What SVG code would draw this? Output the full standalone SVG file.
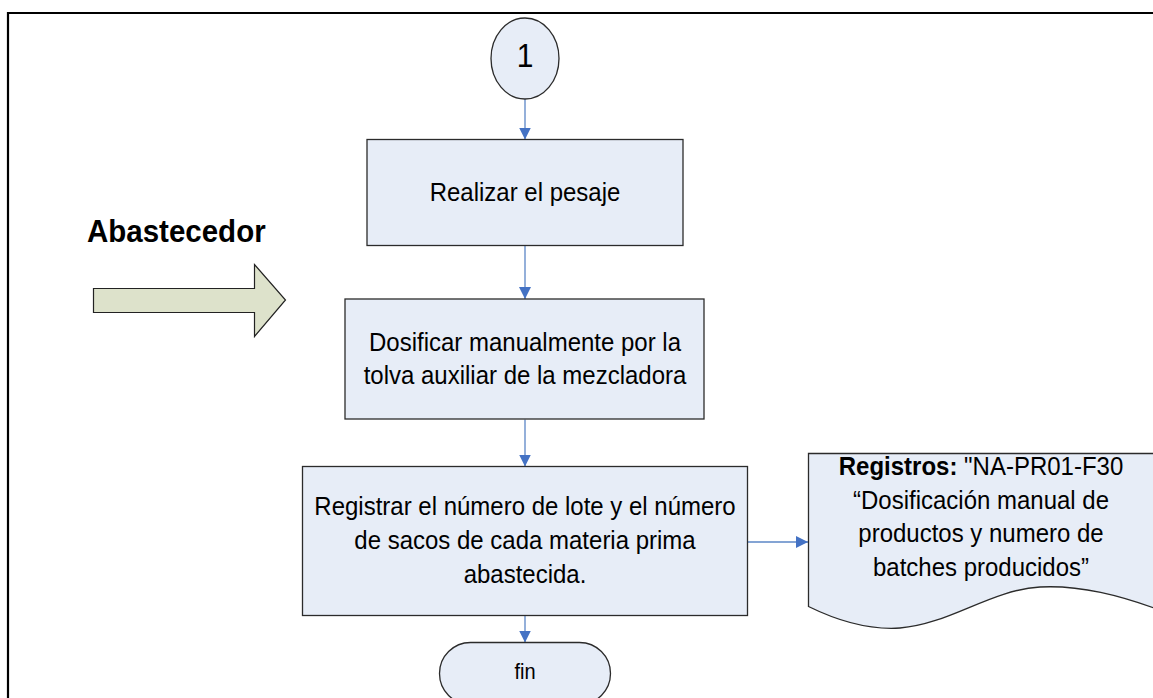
<svg xmlns="http://www.w3.org/2000/svg" width="1153" height="698" viewBox="0 0 1153 698">
<style>
.box{fill:#e7edf7;stroke:#2b2b2b;stroke-width:1.3}
.t{font-family:"Liberation Sans",Arial,sans-serif;font-size:24px;fill:#000;text-anchor:middle}
.conn{stroke:#5b86c6;stroke-width:1.3;fill:none}
</style>
<defs>
<marker id="ah" markerWidth="12" markerHeight="14" refX="13" refY="6.5" orient="auto" markerUnits="userSpaceOnUse" viewBox="0 0 13 13">
<path d="M0,0 L13,6.5 L0,13 Z" fill="#4472c4"/>
</marker>
</defs>
<rect width="1153" height="698" fill="#fff"/>
<g id="frame"><path d="M8,698 V13 H1153" fill="none" stroke="#000" stroke-width="2.2"/></g>
<g id="connectors">
<line class="conn" x1="525" y1="99" x2="525" y2="139.5" marker-end="url(#ah)"/>
<line class="conn" x1="525" y1="246" x2="525" y2="299" marker-end="url(#ah)"/>
<line class="conn" x1="525" y1="419.5" x2="525" y2="466.5" marker-end="url(#ah)"/>
<line class="conn" x1="525" y1="616" x2="525" y2="642.5" marker-end="url(#ah)"/>
<line class="conn" x1="747.5" y1="542" x2="808" y2="542" marker-end="url(#ah)"/>
</g>
<g id="n1">
<ellipse cx="525" cy="58.5" rx="34" ry="40.5" fill="#e7edf7" stroke="#2b2b2b" stroke-width="1.3"/>
<text class="t" transform="translate(525,67) scale(1,1.1)" style="font-size:30px">1</text>
</g>
<g id="abastecedor">
<text transform="translate(87,241.5) scale(1,1.08)" style="font-family:'Liberation Sans',Arial,sans-serif;font-size:29.5px;font-weight:bold">Abastecedor</text>
<path d="M93.5,288.5 H254.5 V264.5 L285.5,300 L254.5,336.5 V312.5 H93.5 Z" fill="#dde2cb" stroke="#222" stroke-width="1.2"/>
</g>
<g id="pesaje">
<rect class="box" x="367" y="139.5" width="316" height="106"/>
<text class="t" transform="translate(525,201) scale(1,1.1)">Realizar el pesaje</text>
</g>
<g id="dosificar">
<rect class="box" x="345" y="299" width="359" height="120"/>
<text class="t" transform="translate(525,351) scale(1,1.1)">Dosificar manualmente por la</text>
<text class="t" transform="translate(525,384) scale(1,1.1)">tolva auxiliar de la mezcladora</text>
</g>
<g id="registrar">
<rect class="box" x="302.5" y="466.5" width="445" height="149"/>
<text class="t" transform="translate(525,515) scale(1,1.1)">Registrar el número de lote y el número</text>
<text class="t" transform="translate(525,549) scale(1,1.1)">de sacos de cada materia prima</text>
<text class="t" transform="translate(525,583) scale(1,1.1)">abastecida.</text>
</g>
<g id="registros">
<path d="M808.5,453.5 H1165 V612 C1120,595 1080,585 1040,587 C990,590 950,624 900,628 C870,630 840,622 808.5,606.5 Z" fill="#e7edf7" stroke="#2b2b2b" stroke-width="1.3"/>
<text class="t" transform="translate(981,475) scale(1,1.1)"><tspan font-weight="bold">Registros:</tspan> "NA-PR01-F30</text>
<text class="t" transform="translate(981,509) scale(1,1.1)">“Dosificación manual de</text>
<text class="t" transform="translate(981,542) scale(1,1.1)">productos y numero de</text>
<text class="t" transform="translate(981,576) scale(1,1.1)">batches producidos”</text>
</g>
<g id="fin">
<rect x="439.5" y="642.5" width="171" height="62" rx="31" ry="31" fill="#e7edf7" stroke="#2b2b2b" stroke-width="1.3"/>
<text class="t" transform="translate(525,679) scale(1,1.1)" style="font-size:20px">fin</text>
</g>
</svg>
